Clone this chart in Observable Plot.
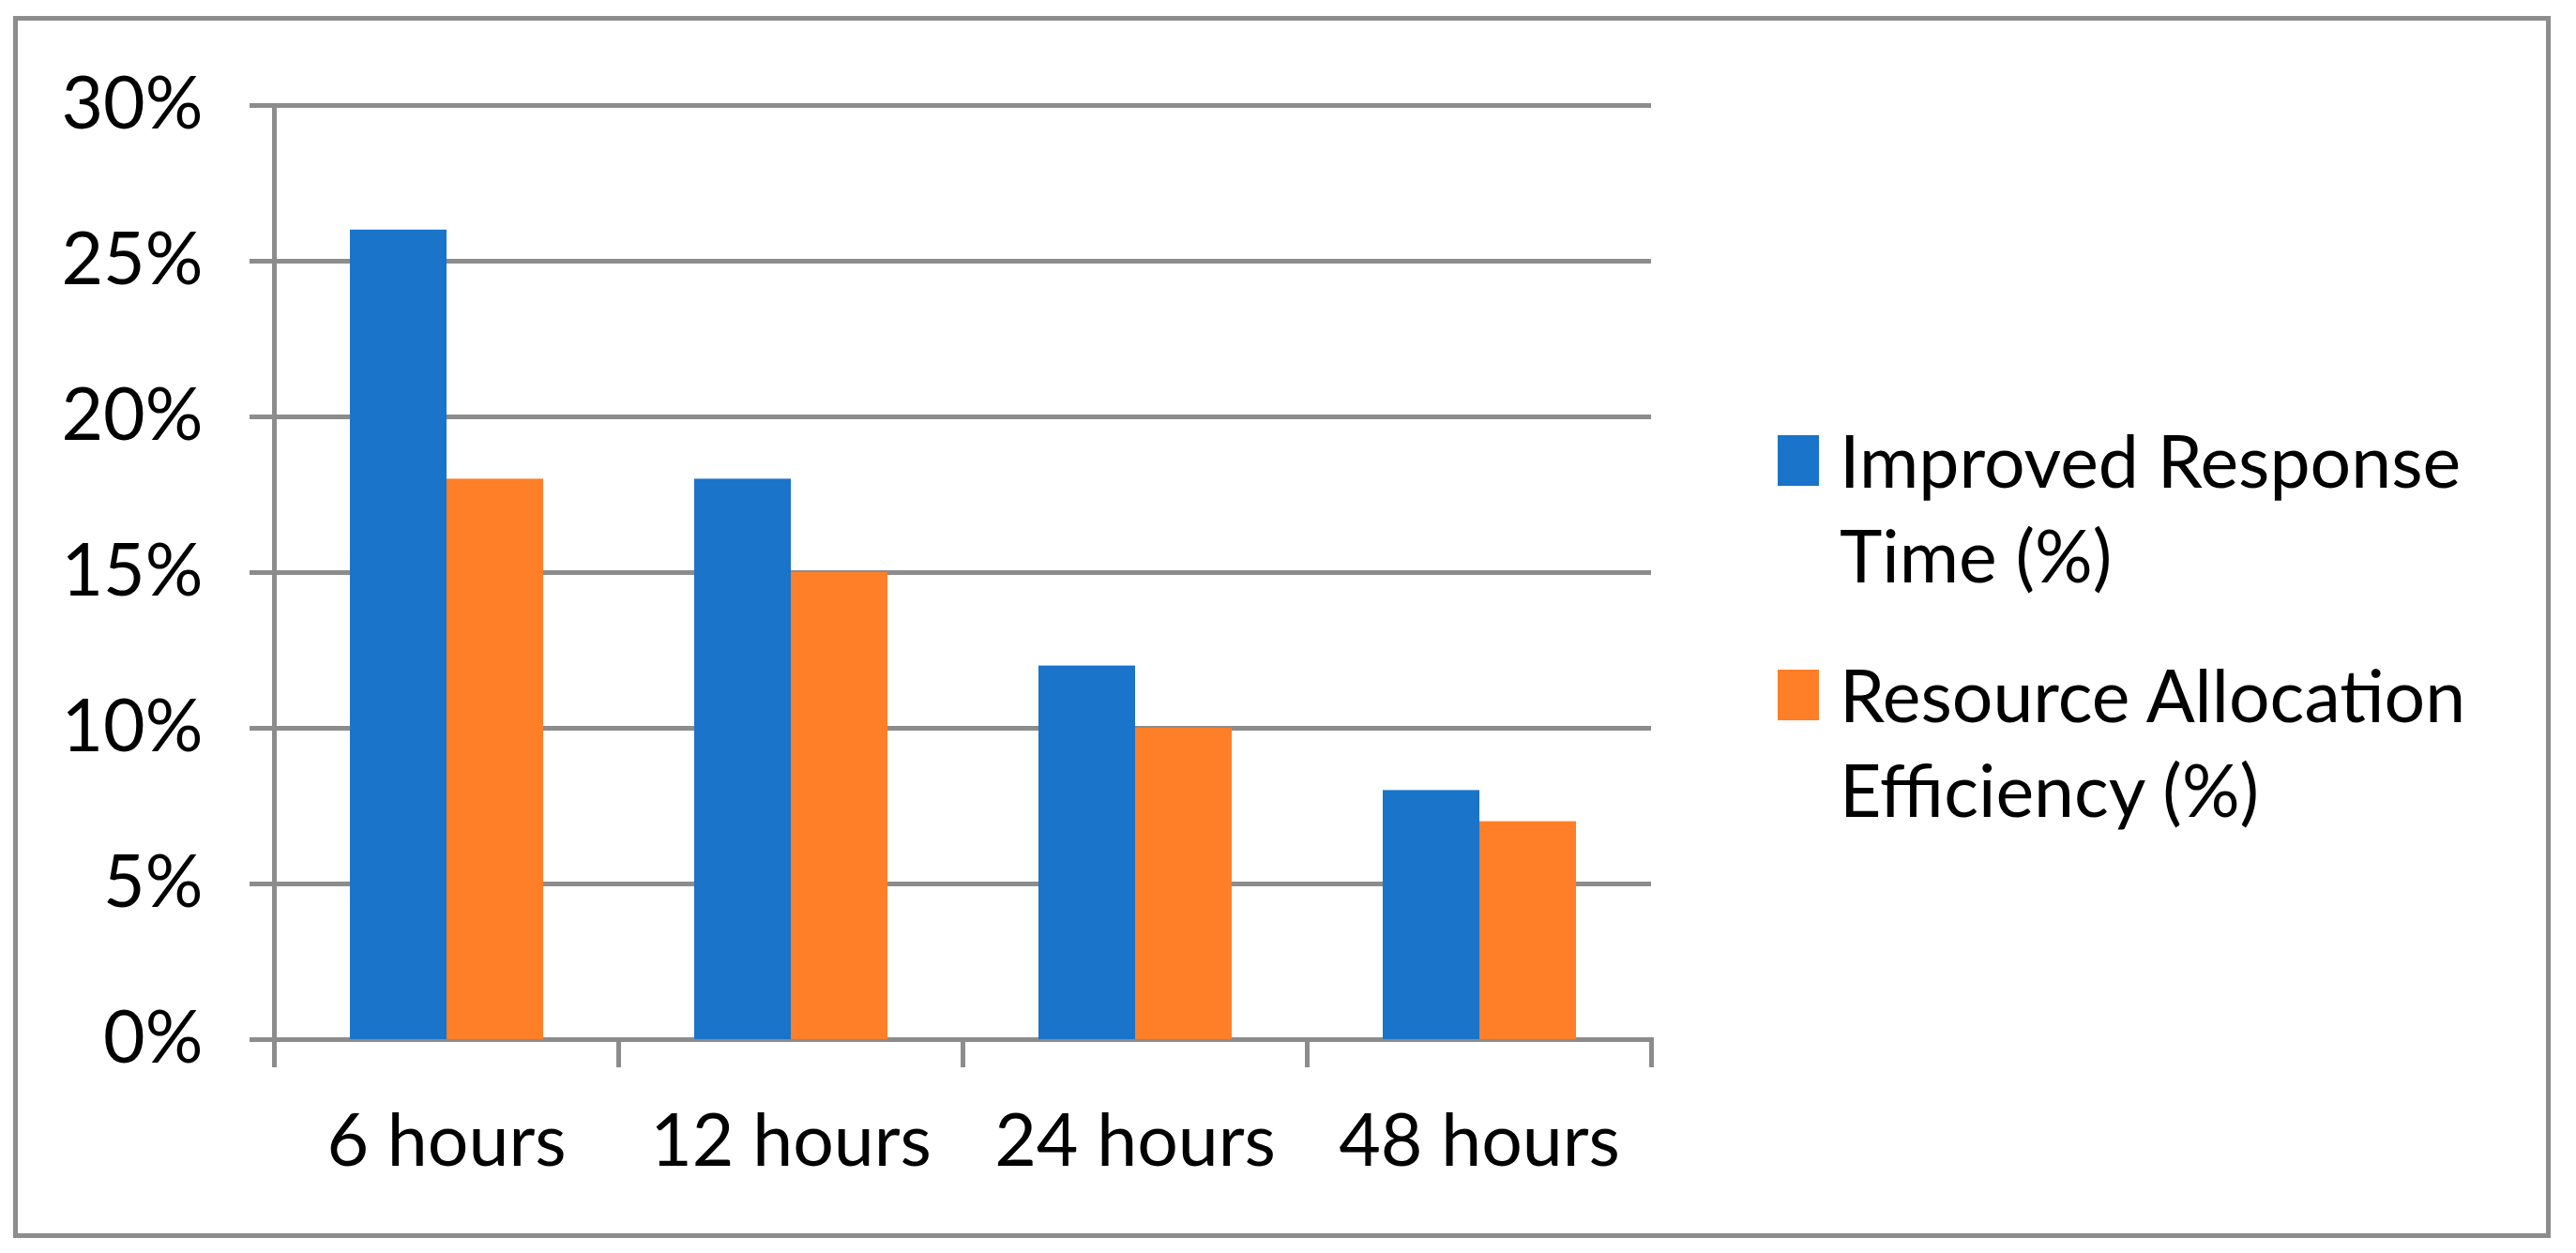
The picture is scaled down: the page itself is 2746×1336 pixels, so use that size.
<!DOCTYPE html>
<html>
<head>
<meta charset="utf-8">
<script src="https://cdn.jsdelivr.net/npm/d3@7"></script>
<script src="https://cdn.jsdelivr.net/npm/@observablehq/plot@0.6"></script>
<style>
  body { margin: 0; background: #fff; }
  #wrap { position: relative; width: 2746px; height: 1336px; font-family: Lato, sans-serif; color: #000; }
  #border { position: absolute; left: 14px; top: 17px; width: 2705px; height: 1303px; border: 5px solid #8c8c8c; box-sizing: border-box; }
  #chart { position: absolute; left: 0; top: 0; }
  .leg { position: absolute; left: 1895px; }
  .sw { position: absolute; width: 44px; height: 54px; }
  .lt { position: absolute; left: 66px; font-size: 77px; line-height: 101px; white-space: nowrap; }
</style>
</head>
<body>
<div id="wrap">
  <div id="border"></div>
  <div id="chart"></div>
  <div id="legend"></div>
</div>
<script>
const categories = ["6 hours", "12 hours", "24 hours", "48 hours"];
const seriesNames = ["Improved Response Time (%)", "Resource Allocation Efficiency (%)"];
const legendLines = [["Improved Response", "Time (%)"], ["Resource Allocation", "Efficiency (%)"]];
const responseTime = [26, 18, 12, 8];
const allocationEfficiency = [18, 15, 10, 7];
const yTicks = [0, 5, 10, 15, 20, 25, 30];
const colors = ["#1a74c9", "#fe7f28"];

const data = categories.flatMap((c, i) => [
  {category: c, series: seriesNames[0], value: responseTime[i]},
  {category: c, series: seriesNames[1], value: allocationEfficiency[i]}
]);

const gray = "#8c8c8c";
const chart = Plot.plot({
  width: 2746,
  height: 1336,
  marginLeft: 291,
  marginRight: 985,
  marginTop: 112,
  marginBottom: 228,
  style: {fontFamily: "Lato, sans-serif", fontSize: "77px", color: "#000", background: "transparent", overflow: "visible"},
  fx: {domain: categories, paddingInner: 0, paddingOuter: 0, label: null},
  x: {domain: seriesNames, paddingInner: 0, paddingOuter: 0.765, axis: null},
  y: {domain: [0, 30], label: null},
  color: {domain: seriesNames, range: colors},
  marks: [
    Plot.gridY(yTicks, {stroke: gray, strokeWidth: 5, strokeOpacity: 1}),
    Plot.axisY(yTicks, {anchor: "left", tickSize: 26, tickPadding: 50, tickFormat: d => d + "%",
      stroke: gray, strokeWidth: 5, fill: "#000", fontSize: 77, label: null}),
    Plot.barY(data, {fx: "category", x: "series", y: "value", fill: "series"}),
    Plot.frame({anchor: "left", facetAnchor: "left", stroke: gray, strokeWidth: 5, insetBottom: -27}),
    Plot.frame({anchor: "left", stroke: gray, strokeWidth: 5, insetTop: 996, insetBottom: -27}),
    Plot.frame({anchor: "right", facetAnchor: "right", stroke: gray, strokeWidth: 5, insetTop: 996, insetBottom: -27}),
    Plot.axisFx({anchor: "bottom", tickSize: 0, tickPadding: 80, fontSize: 77, fill: "#000", label: null})
  ]
});
document.getElementById("chart").appendChild(chart);

const legend = document.getElementById("legend");
const legTops = [464, 714];
seriesNames.forEach((s, i) => {
  const item = document.createElement("div");
  item.className = "leg";
  item.style.top = legTops[i] + "px";
  const sw = document.createElement("div");
  sw.className = "sw";
  sw.style.background = colors[i];
  item.appendChild(sw);
  const t = document.createElement("div");
  t.className = "lt";
  t.style.top = "-24px";
  t.innerHTML = legendLines[i].join("<br>");
  item.appendChild(t);
  legend.appendChild(item);
});
</script>
</body>
</html>
